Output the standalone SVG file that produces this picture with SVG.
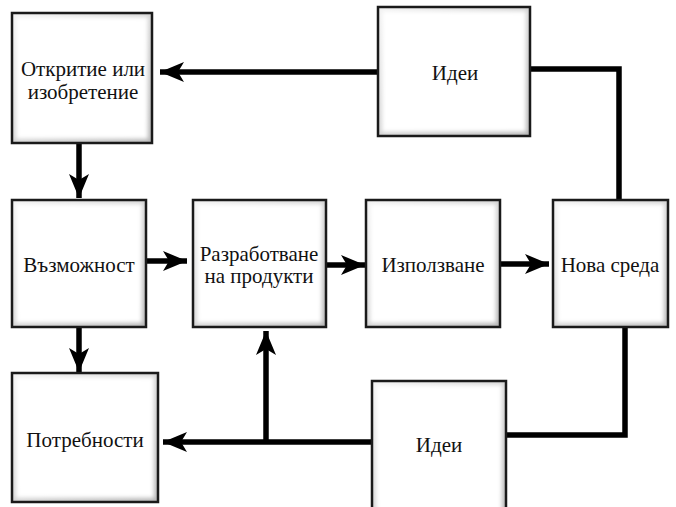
<svg xmlns="http://www.w3.org/2000/svg" width="676" height="507" viewBox="0 0 676 507">
<style>
.wire{fill:none;stroke:#000;stroke-width:5.5;stroke-linejoin:miter;stroke-linecap:butt}
.lbl{font-family:"Liberation Serif",serif;font-size:21px;fill:#111;text-anchor:middle}
</style>
<defs>
<linearGradient id="bevel" x1="0" y1="0" x2="1" y2="1">
<stop offset="0" stop-color="#f2f2f2"/>
<stop offset="1" stop-color="#b4b4b4"/>
</linearGradient>
<filter id="soft" x="-10%" y="-10%" width="120%" height="120%">
<feGaussianBlur stdDeviation="2"/>
</filter>
<marker id="ah" markerUnits="userSpaceOnUse" markerWidth="26" markerHeight="26" viewBox="0 0 26 26" refX="24" refY="13" orient="auto">
<path d="M0,3 L24,13 L0,23 L6,13 Z" fill="#000"/>
</marker>
</defs>
<g id="connectors">
<path class="wire" d="M378,72 H160" marker-end="url(#ah)"/>
<path class="wire" d="M530,69 H619 V200"/>
<path class="wire" d="M79,143 V198" marker-end="url(#ah)"/>
<path class="wire" d="M146,261 H187" marker-end="url(#ah)"/>
<path class="wire" d="M326,265 H365" marker-end="url(#ah)"/>
<path class="wire" d="M500,264 H549" marker-end="url(#ah)"/>
<path class="wire" d="M79,327 V372" marker-end="url(#ah)"/>
<path class="wire" d="M625,327 V435 H506"/>
<path class="wire" d="M372,442 H163" marker-end="url(#ah)"/>
<path class="wire" d="M266,442 V331" marker-end="url(#ah)"/>
</g>
<g id="n-otkritie">
<rect x="12" y="13" width="140" height="130" fill="url(#bevel)"/>
<rect x="16" y="17" width="132" height="122" fill="#fff" filter="url(#soft)"/>
<rect x="12" y="13" width="140" height="130" fill="none" stroke="#1a1a1a" stroke-width="2.5"/>
<text class="lbl" x="83" y="76">Откритие или</text>
<text class="lbl" x="83" y="99">изобретение</text>
</g>
<g id="n-idei-top">
<rect x="378" y="7" width="152" height="129" fill="url(#bevel)"/>
<rect x="382" y="11" width="144" height="121" fill="#fff" filter="url(#soft)"/>
<rect x="378" y="7" width="152" height="129" fill="none" stroke="#1a1a1a" stroke-width="2.5"/>
<text class="lbl" x="455" y="80">Идеи</text>
</g>
<g id="n-vazmozhnost">
<rect x="12" y="200" width="134" height="127" fill="url(#bevel)"/>
<rect x="16" y="204" width="126" height="119" fill="#fff" filter="url(#soft)"/>
<rect x="12" y="200" width="134" height="127" fill="none" stroke="#1a1a1a" stroke-width="2.5"/>
<text class="lbl" x="79" y="272">Възможност</text>
</g>
<g id="n-razrabotvane">
<rect x="193" y="200" width="133" height="127" fill="url(#bevel)"/>
<rect x="197" y="204" width="125" height="119" fill="#fff" filter="url(#soft)"/>
<rect x="193" y="200" width="133" height="127" fill="none" stroke="#1a1a1a" stroke-width="2.5"/>
<text class="lbl" x="259" y="261">Разработване</text>
<text class="lbl" x="259" y="283">на продукти</text>
</g>
<g id="n-izpolzvane">
<rect x="366" y="200" width="134" height="127" fill="url(#bevel)"/>
<rect x="370" y="204" width="126" height="119" fill="#fff" filter="url(#soft)"/>
<rect x="366" y="200" width="134" height="127" fill="none" stroke="#1a1a1a" stroke-width="2.5"/>
<text class="lbl" x="433" y="272">Използване</text>
</g>
<g id="n-nova-sreda">
<rect x="553" y="200" width="115" height="127" fill="url(#bevel)"/>
<rect x="557" y="204" width="107" height="119" fill="#fff" filter="url(#soft)"/>
<rect x="553" y="200" width="115" height="127" fill="none" stroke="#1a1a1a" stroke-width="2.5"/>
<text class="lbl" x="610" y="272">Нова среда</text>
</g>
<g id="n-potrebnosti">
<rect x="12" y="373" width="146" height="129" fill="url(#bevel)"/>
<rect x="16" y="377" width="138" height="121" fill="#fff" filter="url(#soft)"/>
<rect x="12" y="373" width="146" height="129" fill="none" stroke="#1a1a1a" stroke-width="2.5"/>
<text class="lbl" x="85" y="447">Потребности</text>
</g>
<g id="n-idei-bottom">
<rect x="372" y="381" width="134" height="135" fill="url(#bevel)"/>
<rect x="376" y="385" width="126" height="127" fill="#fff" filter="url(#soft)"/>
<rect x="372" y="381" width="134" height="135" fill="none" stroke="#1a1a1a" stroke-width="2.5"/>
<text class="lbl" x="439" y="452">Идеи</text>
</g>
</svg>
